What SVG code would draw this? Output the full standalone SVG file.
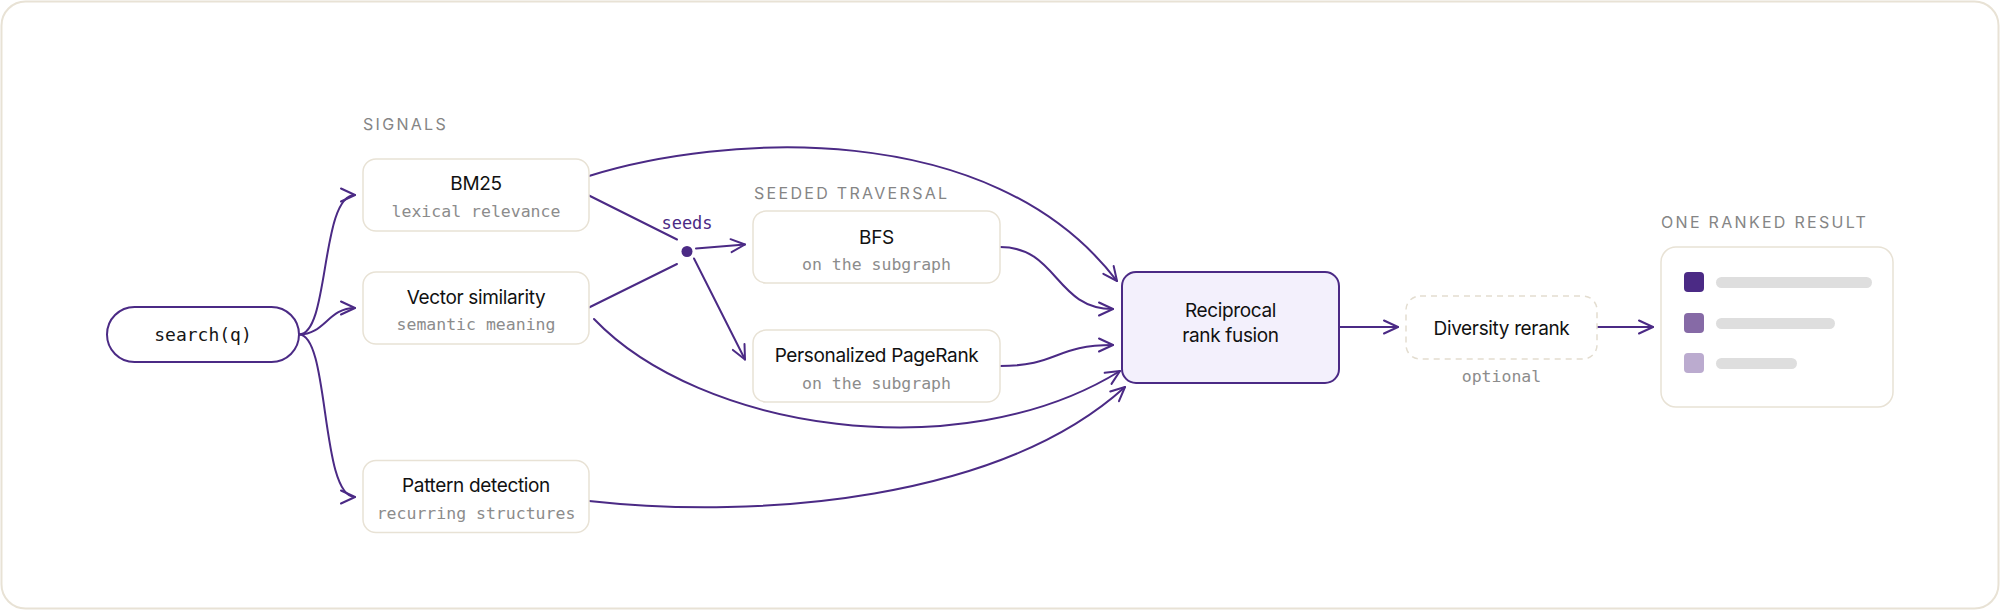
<svg xmlns="http://www.w3.org/2000/svg" width="2000" height="610" viewBox="0 0 2000 610">
  <style>
    .box { fill: #ffffff; stroke: #E8E2D5; stroke-width: 1.5; }
    .title { font-family: Inter, "Liberation Sans", sans-serif; font-size: 19px; fill: #111111; text-anchor: middle; letter-spacing: -0.35px; }
    .sub { font-family: "DejaVu Sans Mono", "Liberation Mono", monospace; font-size: 16.5px; fill: #8C8C8C; text-anchor: middle; }
    .section { font-family: Inter, "Liberation Sans", sans-serif; font-size: 16px; fill: #858585; letter-spacing: 2.3px; }
    .conn { fill: none; stroke: #4B2A85; stroke-width: 2; stroke-linecap: round; }
    .bar { fill: #DEDEDE; }
  </style>
  <defs>
    <marker id="arr" viewBox="-17 -10 19 20" refX="0" refY="0" markerWidth="19" markerHeight="20" markerUnits="userSpaceOnUse" orient="auto">
      <path d="M-14,-6.5 L0,0 L-14,6.5" fill="none" stroke="#4B2A85" stroke-width="2" stroke-linecap="round" stroke-linejoin="round"/>
    </marker>
  </defs>

  <rect x="1.5" y="1.5" width="1997" height="607" rx="24" fill="#ffffff" stroke="#E8E2D5" stroke-width="2"/>

  <text class="section" x="363" y="130">SIGNALS</text>
  <text class="section" x="754" y="199">SEEDED TRAVERSAL</text>
  <text class="section" x="1661" y="228">ONE RANKED RESULT</text>

  <g id="connectors">
    <path class="conn" d="M299,334.5 C330,334.5 320,195 355,195" marker-end="url(#arr)"/>
    <path class="conn" d="M299,334.5 C325,334.5 328,308 355,308" marker-end="url(#arr)"/>
    <path class="conn" d="M299,334.5 C330,334.5 320,497 355,497" marker-end="url(#arr)"/>
    <line class="conn" x1="589" y1="195.5" x2="677" y2="239.5"/>
    <line class="conn" x1="589" y1="307.5" x2="677" y2="264"/>
    <path class="conn" d="M696,248.5 L745,244.5" marker-end="url(#arr)"/>
    <path class="conn" d="M694,258.5 L745,359.5" marker-end="url(#arr)"/>
    <path class="conn" d="M589,176 C720,135 990,115 1117,281" marker-end="url(#arr)"/>
    <path class="conn" d="M1000,247 C1058,247 1055,309 1113,309" marker-end="url(#arr)"/>
    <path class="conn" d="M1000,366 C1058,366 1055,345 1113,345" marker-end="url(#arr)"/>
    <path class="conn" d="M594,319 C700,430 960,470 1120,371" marker-end="url(#arr)"/>
    <path class="conn" d="M589,501 C760,520 1000,500 1125,387" marker-end="url(#arr)"/>
    <path class="conn" d="M1339,327 L1398,327" marker-end="url(#arr)"/>
    <path class="conn" d="M1597,327 L1653,327" marker-end="url(#arr)"/>
    <circle cx="687" cy="251.5" r="5.5" fill="#4B2A85"/>
    <text x="687" y="228.5" font-family="'DejaVu Sans Mono', 'Liberation Mono', monospace" font-size="17" fill="#4B2A85" text-anchor="middle">seeds</text>
  </g>

  <g id="search">
    <rect x="107" y="307" width="192" height="55" rx="27.5" fill="#ffffff" stroke="#4B2A85" stroke-width="2"/>
    <text x="203" y="341" font-family="'DejaVu Sans Mono', 'Liberation Mono', monospace" font-size="18" fill="#161616" text-anchor="middle">search(q)</text>
  </g>

  <g id="bm25">
    <rect class="box" x="363" y="159" width="226" height="72" rx="13"/>
    <text class="title" x="476" y="190">BM25</text>
    <text class="sub" x="476" y="217">lexical relevance</text>
  </g>

  <g id="vector">
    <rect class="box" x="363" y="272" width="226" height="72" rx="13"/>
    <text class="title" x="476" y="304">Vector similarity</text>
    <text class="sub" x="476" y="330">semantic meaning</text>
  </g>

  <g id="pattern">
    <rect class="box" x="363" y="460.5" width="226" height="72" rx="13"/>
    <text class="title" x="476" y="492">Pattern detection</text>
    <text class="sub" x="476" y="518.5">recurring structures</text>
  </g>

  <g id="bfs">
    <rect class="box" x="753" y="211" width="247" height="72" rx="13"/>
    <text class="title" x="876.5" y="243.5">BFS</text>
    <text class="sub" x="876.5" y="269.5">on the subgraph</text>
  </g>

  <g id="ppr">
    <rect class="box" x="753" y="330" width="247" height="72" rx="13"/>
    <text class="title" x="876.5" y="362">Personalized PageRank</text>
    <text class="sub" x="876.5" y="388.5">on the subgraph</text>
  </g>

  <g id="fusion">
    <rect x="1122" y="272" width="217" height="111" rx="14" fill="#F3F0FC" stroke="#4B2A85" stroke-width="2"/>
    <text class="title" x="1230.5" y="317">Reciprocal</text>
    <text class="title" x="1230.5" y="342">rank fusion</text>
  </g>

  <g id="diversity">
    <rect x="1406" y="296" width="191" height="63" rx="14" fill="#ffffff" stroke="#E3DDD0" stroke-width="1.5" stroke-dasharray="6 5"/>
    <text class="title" x="1501.5" y="334.5">Diversity rerank</text>
    <text class="sub" x="1501.5" y="382">optional</text>
  </g>

  <g id="result">
    <rect class="box" x="1661" y="247" width="232" height="160" rx="15"/>
    <rect x="1684" y="272" width="20" height="20" rx="4" fill="#4B2A85"/>
    <rect class="bar" x="1716" y="277" width="156" height="11" rx="5.5"/>
    <rect x="1684" y="313" width="20" height="20" rx="4" fill="#866AA6"/>
    <rect class="bar" x="1716" y="318" width="119" height="11" rx="5.5"/>
    <rect x="1684" y="353" width="20" height="20" rx="4" fill="#BBABCF"/>
    <rect class="bar" x="1716" y="358" width="81" height="11" rx="5.5"/>
  </g>
</svg>
